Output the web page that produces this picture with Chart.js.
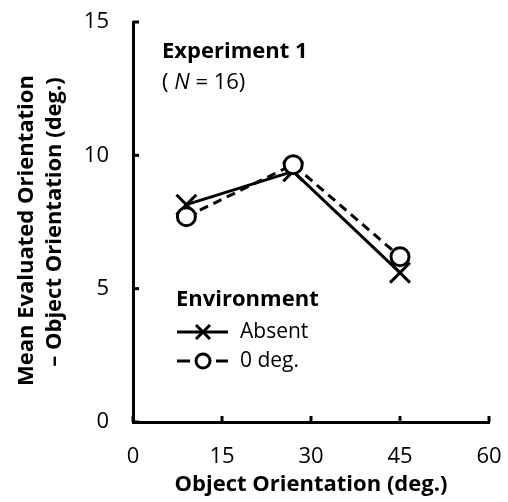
<!DOCTYPE html>
<html><head><meta charset="utf-8">
<script src="https://cdn.jsdelivr.net/npm/chart.js@4/dist/chart.umd.min.js"></script>
<style>html,body{margin:0;padding:0;background:#fff}#w{width:508px;height:502px}</style>
</head><body><div id="w"><canvas id="c" width="508" height="502"></canvas></div>
<script>
const seriesNames = ["Absent", "0 deg."];
const absentX = [9, 27, 45];
const absentY = [8.15, 9.4, 5.6];
const zeroX = [9, 27, 45];
const zeroY = [7.7, 9.65, 6.2];
const xTicks = [0, 15, 30, 45, 60];
const yTicks = [0, 5, 10, 15];
const FONT = "'Open Sans', 'Liberation Sans', sans-serif";

const toPts = (xs, ys) => xs.map((x, i) => ({x, y: ys[i]}));

const innerTicks = {
  id: 'innerTicks',
  afterDraw(chart) {
    const {ctx, scales: {x, y}} = chart;
    ctx.save();
    ctx.strokeStyle = '#000'; ctx.lineWidth = 3;
    yTicks.forEach(v => { const py = y.getPixelForValue(v); ctx.beginPath(); ctx.moveTo(x.left, py); ctx.lineTo(x.left + 6, py); ctx.stroke(); });
    xTicks.forEach(v => { const px = x.getPixelForValue(v); ctx.beginPath(); ctx.moveTo(px, y.bottom); ctx.lineTo(px, y.bottom - 6); ctx.stroke(); });
    // annotation
    ctx.fillStyle = '#000'; ctx.textBaseline = 'middle';
    ctx.font = "bold 22px " + FONT;
    ctx.fillText('Experiment 1', 162, 52);
    ctx.font = "22px " + FONT;
    let tx = 162;
    ctx.fillText('( ', tx, 83); tx += ctx.measureText('( ').width;
    ctx.font = "italic 22px " + FONT;
    ctx.fillText('N', tx, 83); tx += ctx.measureText('N').width;
    ctx.font = "22px " + FONT;
    ctx.fillText(' = 16)', tx, 83);
    // legend
    ctx.font = "bold 22px " + FONT;
    ctx.fillText('Environment', 176, 300);
    chart.data.datasets.forEach((ds, i) => {
      const ly = 332 + i * 29;
      const cx = 203;
      ctx.lineWidth = 3; ctx.strokeStyle = '#000';
      ctx.beginPath();
      if (ds.borderDash) {
        ctx.moveTo(177, ly); ctx.lineTo(190, ly); ctx.moveTo(216, ly); ctx.lineTo(228, ly);
      } else {
        ctx.moveTo(177, ly); ctx.lineTo(228, ly);
      }
      ctx.stroke();
      if (ds.pointStyle === 'crossRot') {
        ctx.beginPath(); ctx.moveTo(cx - 7, ly - 7); ctx.lineTo(cx + 7, ly + 7); ctx.moveTo(cx + 7, ly - 7); ctx.lineTo(cx - 7, ly + 7); ctx.stroke();
      } else {
        ctx.fillStyle = '#fff'; ctx.beginPath(); ctx.arc(cx, ly, 7, 0, Math.PI * 2); ctx.fill(); ctx.stroke();
      }
      ctx.fillStyle = '#000'; ctx.font = "21px " + FONT;
      ctx.fillText(ds.label, 240, ly);
    });
    ctx.restore();
  }
};

new Chart(document.getElementById('c'), {
  type: 'line',
  data: {
    datasets: [
      { label: seriesNames[0], order: 1, data: toPts(absentX, absentY), borderColor: '#000', borderWidth: 3, pointStyle: 'crossRot', pointRadius: 14, pointBorderWidth: 3, pointBorderColor: '#000', pointBackgroundColor: '#000', tension: 0 },
      { label: seriesNames[1], order: 0, data: toPts(zeroX, zeroY), borderColor: '#000', borderWidth: 3, borderDash: [9, 6], pointStyle: 'circle', pointRadius: 9, pointBorderWidth: 3, pointBorderColor: '#000', pointBackgroundColor: '#fff', tension: 0 }
    ]
  },
  options: {
    responsive: false, animation: false,
    layout: { padding: { top: 22, right: 19, left: 13, bottom: 0 } },
    plugins: { legend: { display: false }, tooltip: { enabled: false } },
    scales: {
      x: {
        type: 'linear', min: 0, max: 60,
        afterBuildTicks: s => { s.ticks = xTicks.map(v => ({value: v})); },
        afterFit: s => { s.height = 80; s.paddingLeft = 0; s.paddingRight = 0; },
        grid: { display: false },
        border: { display: true, color: '#000', width: 3 },
        ticks: { color: '#000', font: { family: FONT, size: 22 }, padding: 14, maxRotation: 0 },
        title: { display: true, text: 'Object Orientation (deg.)', color: '#000', font: { family: FONT, size: 22, weight: 'bold' }, padding: { top: 2, bottom: 4 } }
      },
      y: {
        type: 'linear', min: 0, max: 15,
        afterBuildTicks: s => { s.ticks = yTicks.map(v => ({value: v})); },
        afterFit: s => { s.width = 120; s.paddingTop = 0; s.paddingBottom = 0; },
        grid: { display: false },
        border: { display: true, color: '#000', width: 3 },
        ticks: { color: '#000', font: { family: FONT, size: 22 }, padding: 16 },
        title: { display: true, text: ['Mean Evaluated Orientation   ', '\u2013 Object Orientation (deg.)'], color: '#000', font: { family: FONT, size: 22, weight: 'bold', lineHeight: 1.27 }, padding: 0 }
      }
    }
  },
  plugins: [innerTicks]
});
</script></body></html>
